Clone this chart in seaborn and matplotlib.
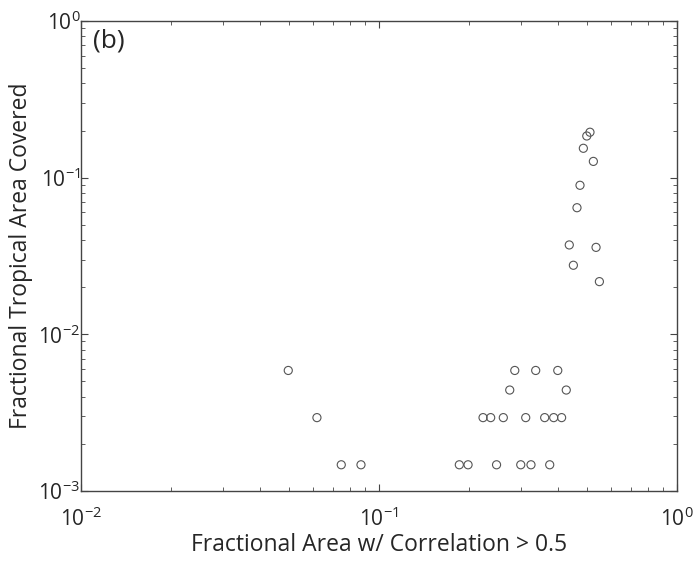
""" Log-log scatter of tropical area covered vs. fractional correlated area. """
import matplotlib
matplotlib.use('Agg')
import matplotlib.pyplot as plt
import seaborn as sns
import pandas as pd

# values
frac_area = [0.0496, 0.2855, 0.3356, 0.398,
             0.2746, 0.425,
             0.0619, 0.2234, 0.237, 0.2613, 0.3107, 0.3597, 0.3857, 0.410,
             0.0747, 0.0870, 0.186, 0.199, 0.248, 0.299, 0.3236, 0.374,
             0.5105, 0.498, 0.485, 0.524, 0.4726, 0.4617, 0.435, 0.535, 0.449, 0.549]
trop_cover = [0.00588, 0.00588, 0.00588, 0.00588,
              0.00441, 0.00441,
              0.00294, 0.00294, 0.00294, 0.00294, 0.00294, 0.00294, 0.00294, 0.00294,
              0.00147, 0.00147, 0.00147, 0.00147, 0.00147, 0.00147, 0.00147, 0.00147,
              0.195, 0.1845, 0.154, 0.127, 0.0894, 0.0643, 0.0372, 0.0359, 0.0276, 0.0217]

df = pd.DataFrame({'area': frac_area, 'cover': trop_cover})

sns.set_style('ticks')
plt.rcParams['font.family'] = ['Open Sans', 'DejaVu Sans']
plt.rcParams['mathtext.default'] = 'regular'

fig = plt.figure(figsize=(6.96, 5.63), dpi=100)
ax = fig.add_axes([0.1164, 0.1279, 0.8563, 0.8348])

sns.scatterplot(data=df, x='area', y='cover', ax=ax,
                marker='o', s=34, facecolor='none', edgecolor='#555555',
                linewidth=0.8)

ax.set_xscale('log')
ax.set_yscale('log')
ax.set_xlim(1e-2, 1e0)
ax.set_ylim(1e-3, 1e0)

ax.set_xlabel('Fractional Area w/ Correlation > 0.5', fontsize=16.5, labelpad=1)
ax.set_ylabel('Fractional Tropical Area Covered', fontsize=16.5, labelpad=4)
ax.tick_params(which='both', direction='in', top=True, right=True,
               labelsize=15, color='#444444')
ax.tick_params(which='major', length=5)
ax.tick_params(which='minor', length=3)
ax.tick_params(axis='x', which='major', pad=12)
ax.tick_params(axis='y', which='major', pad=0.5)
for s in ax.spines.values():
    s.set_color('#444444')
    s.set_linewidth(1.0)

ax.text(0.02, 0.985, '(b)', transform=ax.transAxes, fontsize=19,
        ha='left', va='top')

fig.savefig('out.png', dpi=100)
